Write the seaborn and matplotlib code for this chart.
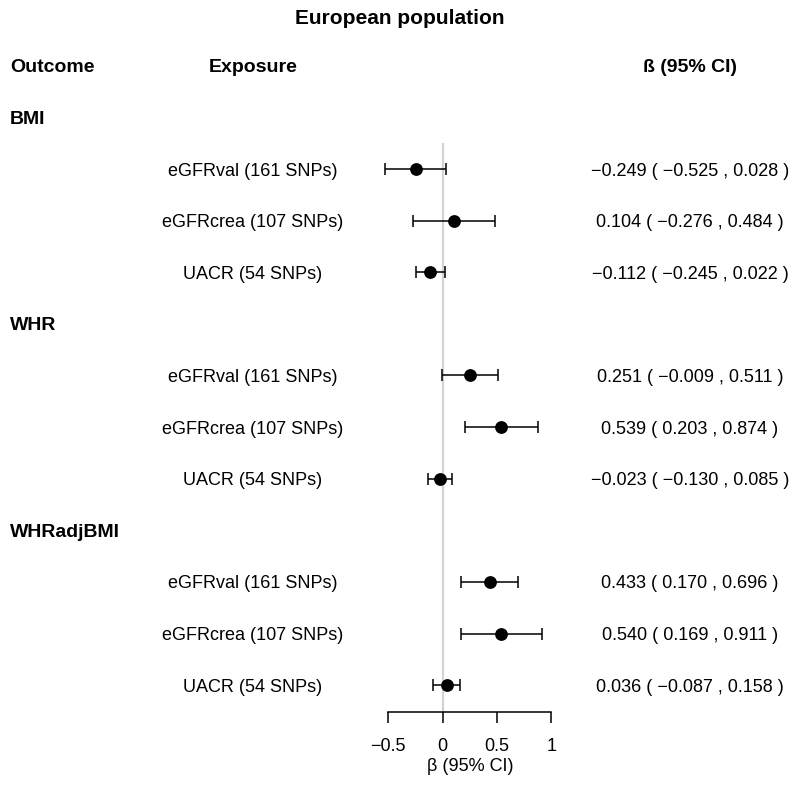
import seaborn as sns
import matplotlib.pyplot as plt
import matplotlib.transforms as mtransforms
import pandas as pd

outcomes = ["BMI", "WHR", "WHRadjBMI"]
exposures = ["eGFRval (161 SNPs)", "eGFRcrea (107 SNPs)", "UACR (54 SNPs)"]
beta = [-0.249, 0.104, -0.112, 0.251, 0.539, -0.023, 0.433, 0.540, 0.036]
ci_low = [-0.525, -0.276, -0.245, -0.009, 0.203, -0.130, 0.170, 0.169, -0.087]
ci_high = [0.028, 0.484, 0.022, 0.511, 0.874, 0.085, 0.696, 0.911, 0.158]
x_ticks = [-0.5, 0, 0.5, 1]
x_tick_labels = ["\u22120.5", "0", "0.5", "1"]

sns.set_style("white")
plt.rcParams['font.family'] = ['Liberation Sans', 'DejaVu Sans']
plt.rcParams['text.color'] = 'black'
plt.rcParams['axes.labelcolor'] = 'black'
plt.rcParams['xtick.color'] = 'black'


def fmt(v):
    return f"{v:.3f}".replace("-", "\u2212")


# one line per outcome header, then one per exposure
rows = []
for g, outc in enumerate(outcomes):
    for k, expo in enumerate(exposures):
        i = g * len(exposures) + k
        rows.append({
            "outcome": outc, "exposure": expo,
            "beta": beta[i], "lo": ci_low[i], "hi": ci_high[i],
            "row": 2 + g * 4 + k,
        })
df = pd.DataFrame(rows)

W, H = 800, 785
fig = plt.figure(figsize=(W / 100, H / 100), dpi=100)
ax = fig.add_axes([388.2 / W, (H - 712) / H, 163.2 / W, (712 - 143) / H])

ax.axvline(0, color="#d3d3d3", lw=1.6, zorder=0)
ax.errorbar(df["beta"], df["row"],
            xerr=[df["beta"] - df["lo"], df["hi"] - df["beta"]],
            fmt="none", ecolor="black", elinewidth=1.1, capsize=4.2,
            capthick=1.1, clip_on=False, zorder=2)
sns.scatterplot(data=df, x="beta", y="row", ax=ax, color="black", s=85,
                edgecolor="black", linewidth=0, zorder=3, clip_on=False)

ax.set_xlim(-0.5, 1)
ax.set_ylim(12.52, 1.496)
ax.set_yticks([])
for s in ["top", "right", "left"]:
    ax.spines[s].set_visible(False)
ax.spines["bottom"].set_bounds(-0.5, 1)
ax.spines["bottom"].set_linewidth(1.1)
ax.spines["bottom"].set_color("black")
ax.set_xticks(x_ticks)
ax.set_xticklabels(x_tick_labels)
ax.tick_params(axis="x", bottom=True, direction="out", length=8, width=1.1,
               labelsize=13, pad=10.5, color="black")
ax.set_xlabel("\u03b2 (95% CI)", fontsize=13, labelpad=2.5)
ax.set_ylabel("")

# x in figure fraction, y in row units, nudged down a little
tr = mtransforms.blended_transform_factory(fig.transFigure, ax.transData)
tr = tr + mtransforms.ScaledTranslation(0, -2 / 100, fig.dpi_scale_trans)

fig.text(0.5, 1 - 19 / H, "European population", ha="center", va="center",
         fontsize=15, fontweight="bold")
ax.text(10 / W, 0, "Outcome", transform=tr, ha="left", va="center",
        fontsize=14, fontweight="bold")
ax.text(253 / W, 0, "Exposure", transform=tr, ha="center", va="center",
        fontsize=14, fontweight="bold")
ax.text(690 / W, 0, "\u00df (95% CI)", transform=tr, ha="center", va="center",
        fontsize=14, fontweight="bold")

for g, outc in enumerate(outcomes):
    ax.text(10 / W, 1 + g * 4, outc, transform=tr, ha="left", va="center",
            fontsize=14, fontweight="bold")

for _, r in df.iterrows():
    ax.text(253 / W, r["row"], r["exposure"], transform=tr, ha="center",
            va="center", fontsize=13)
    ax.text(690 / W, r["row"],
            f"{fmt(r['beta'])} ( {fmt(r['lo'])} , {fmt(r['hi'])} )",
            transform=tr, ha="center", va="center", fontsize=13)

fig.savefig("out.png", dpi=100, facecolor="white")
